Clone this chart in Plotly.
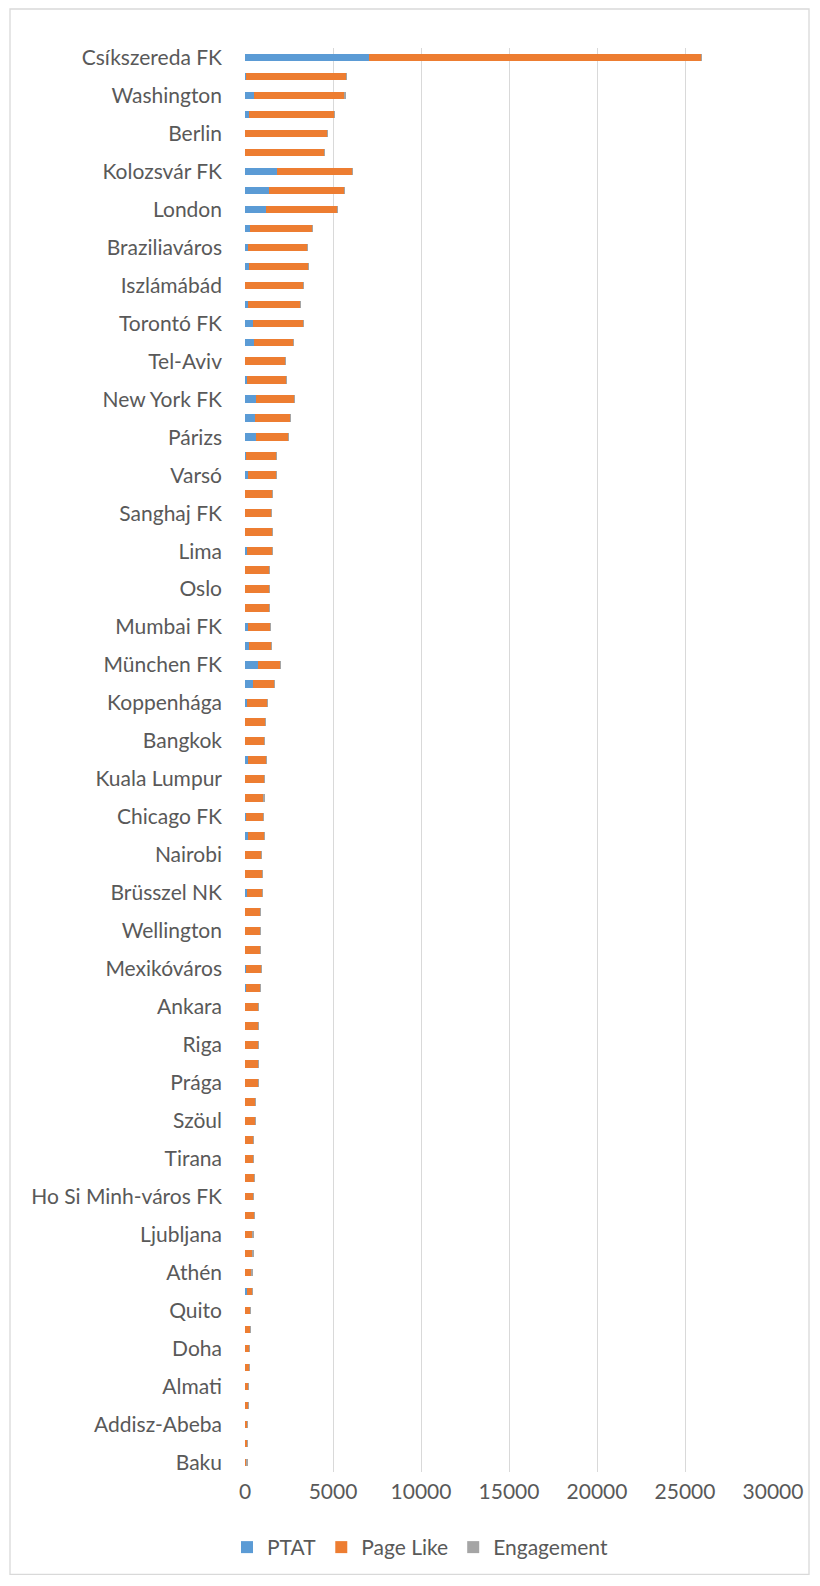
import plotly.graph_objects as go

# Category labels (only every other one is printed on the axis; blanks are rows without a printed label)
categories = [
    "Csíkszereda FK", "", "Washington", "", "Berlin", "", "Kolozsvár FK", "", "London", "",
    "Braziliaváros", "", "Iszlámábád", "", "Torontó FK", "", "Tel-Aviv", "", "New York FK", "",
    "Párizs", "", "Varsó", "", "Sanghaj FK", "", "Lima", "", "Oslo", "",
    "Mumbai FK", "", "München FK", "", "Koppenhága", "", "Bangkok", "", "Kuala Lumpur", "",
    "Chicago FK", "", "Nairobi", "", "Brüsszel NK", "", "Wellington", "", "Mexikóváros", "",
    "Ankara", "", "Riga", "", "Prága", "", "Szöul", "", "Tirana", "",
    "Ho Si Minh-város FK", "", "Ljubljana", "", "Athén", "", "Quito", "", "Doha", "",
    "Almati", "", "Addisz-Abeba", "", "Baku",
]

ptat = [
    7060, 40, 530, 230, 20, 10, 1840, 1360, 1210, 300,
    150, 230, 20, 150, 440, 490, 10, 130, 610, 550,
    610, 40, 190, 10, 10, 20, 130, 10, 10, 10,
    190, 250, 760, 460, 100, 10, 10, 170, 10, 10,
    40, 150, 10, 10, 100, 10, 10, 10, 40, 60,
    10, 10, 10, 10, 10, 10, 10, 10, 10, 10,
    10, 10, 10, 10, 10, 100, 10, 10, 10, 10,
    10, 10, 10, 10, 40,
]

page_like = [
    18850, 5700, 5150, 4830, 4660, 4520, 4260, 4270, 4060, 3550,
    3420, 3380, 3280, 2980, 2880, 2270, 2270, 2210, 2180, 2050,
    1840, 1750, 1620, 1570, 1500, 1540, 1430, 1365, 1365, 1385,
    1280, 1240, 1260, 1220, 1160, 1160, 1120, 1030, 1085, 1065,
    1030, 960, 915, 970, 880, 855, 855, 855, 885, 825,
    760, 745, 745, 745, 760, 590, 610, 495, 495, 515,
    495, 515, 440, 440, 385, 330, 290, 290, 250, 230,
    210, 175, 135, 125, 70,
]

engagement = [
    30, 5, 5, 5, 5, 5, 20, 5, 5, 5,
    5, 5, 5, 5, 5, 5, 5, 5, 5, 5,
    5, 5, 5, 5, 5, 5, 5, 5, 5, 5,
    5, 5, 5, 5, 5, 5, 5, 5, 5, 5,
    5, 5, 5, 5, 5, 5, 5, 5, 5, 5,
    5, 5, 5, 5, 5, 5, 5, 5, 5, 5,
    5, 5, 5, 5, 5, 5, 5, 5, 5, 5,
    5, 5, 5, 5, 30,
]

x_ticks = [0, 5000, 10000, 15000, 20000, 25000, 30000]

rows = list(range(len(categories)))
label_rows = [i for i, c in enumerate(categories) if c]
label_text = [categories[i] for i in label_rows]

FONT = "Lato"
TEXT_COLOR = "#595959"

fig = go.Figure()
for name, vals, color in [
    ("PTAT", ptat, "#5B9BD5"),
    ("Page Like", page_like, "#ED7D31"),
    ("Engagement", engagement, "#A5A5A5"),
]:
    fig.add_trace(go.Bar(
        y=rows, x=vals, name=name, orientation="h",
        marker=dict(color=color, line=dict(width=0)),
    ))

# plot area in pixels
W, H = 820, 1586
L, R, T, B = 245, 47, 48, 113.5
pw, ph = W - L - R, H - T - B


def px_x(x):
    return (x - L) / pw


def px_y(y):
    return (H - B - y) / ph


fig.update_layout(
    width=W, height=H,
    barmode="stack", bargap=0.6,
    margin=dict(l=L, r=R, t=T, b=B, pad=0),
    paper_bgcolor="white", plot_bgcolor="white",
    font=dict(family=FONT, size=21, color=TEXT_COLOR),
    showlegend=True,
    legend=dict(
        orientation="h", x=px_x(420), xanchor="center",
        y=px_y(1548), yanchor="middle",
        font=dict(family=FONT, size=21, color=TEXT_COLOR),
        traceorder="normal",
    ),
    xaxis=dict(
        range=[0, 30000], tickvals=x_ticks, ticktext=[str(v) for v in x_ticks],
        showgrid=True, gridcolor="#D9D9D9", gridwidth=1.4,
        zeroline=False, showline=False, ticks="", ticklabelstandoff=5,
        tickfont=dict(family=FONT, size=21, color=TEXT_COLOR),
        fixedrange=True,
    ),
    yaxis=dict(
        range=[len(categories) - 0.5, -0.5],
        tickvals=label_rows, ticktext=label_text,
        tickfont=dict(family=FONT, size=21, color=TEXT_COLOR),
        showgrid=False, zeroline=False, showline=False, ticks="",
        ticklabelstandoff=22,
    ),
    shapes=[dict(
        type="rect", xref="paper", yref="paper",
        x0=px_x(10), x1=px_x(809), y0=px_y(1575), y1=px_y(9),
        line=dict(color="#D9D9D9", width=1.3), fillcolor="rgba(0,0,0,0)",
        layer="below",
    )],
)

fig.write_html("out.html")
